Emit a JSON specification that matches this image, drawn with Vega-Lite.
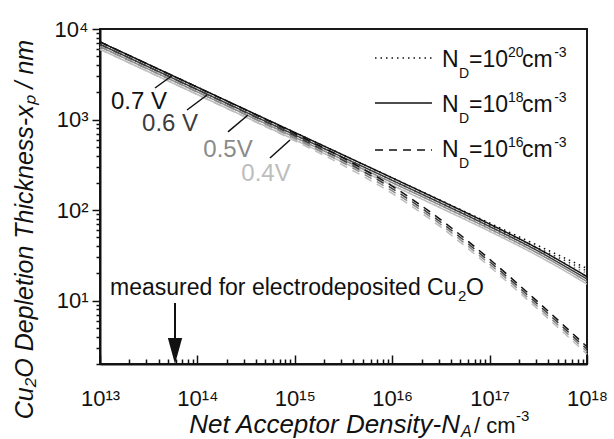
{
"$schema": "https://vega.github.io/schema/vega-lite/v6.json",
"width": 487, "height": 335,
"autosize": {"type": "none"},
"padding": {"left": 100, "top": 29, "right": 27, "bottom": 75},
"background": "white",
"config": {"font": "Liberation Sans", "view": {"stroke": "#1a1a1a", "strokeWidth": 2}},
"datasets": {
"curves": [
{"x":1e13,"y":7200,"V":"0.7","ND":"1e20"},{"x":3.162e13,"y":4049,"V":"0.7","ND":"1e20"},{"x":1e14,"y":2277,"V":"0.7","ND":"1e20"},{"x":3.162e14,"y":1280,"V":"0.7","ND":"1e20"},{"x":1e15,"y":720,"V":"0.7","ND":"1e20"},{"x":3.162e15,"y":404.9,"V":"0.7","ND":"1e20"},{"x":1e16,"y":227.7,"V":"0.7","ND":"1e20"},{"x":3.162e16,"y":128.0,"V":"0.7","ND":"1e20"},{"x":1e17,"y":72.0,"V":"0.7","ND":"1e20"},{"x":3.162e17,"y":40.46,"V":"0.7","ND":"1e20"},{"x":1e18,"y":22.71,"V":"0.7","ND":"1e20"},
{"x":1e13,"y":6768,"V":"0.6","ND":"1e20"},{"x":3.162e13,"y":3806,"V":"0.6","ND":"1e20"},{"x":1e14,"y":2140,"V":"0.6","ND":"1e20"},{"x":3.162e14,"y":1203,"V":"0.6","ND":"1e20"},{"x":1e15,"y":676.8,"V":"0.6","ND":"1e20"},{"x":3.162e15,"y":380.6,"V":"0.6","ND":"1e20"},{"x":1e16,"y":214.0,"V":"0.6","ND":"1e20"},{"x":3.162e16,"y":120.3,"V":"0.6","ND":"1e20"},{"x":1e17,"y":67.7,"V":"0.6","ND":"1e20"},{"x":3.162e17,"y":38.03,"V":"0.6","ND":"1e20"},{"x":1e18,"y":21.34,"V":"0.6","ND":"1e20"},
{"x":1e13,"y":6372,"V":"0.5","ND":"1e20"},{"x":3.162e13,"y":3583,"V":"0.5","ND":"1e20"},{"x":1e14,"y":2015,"V":"0.5","ND":"1e20"},{"x":3.162e14,"y":1133,"V":"0.5","ND":"1e20"},{"x":1e15,"y":637.2,"V":"0.5","ND":"1e20"},{"x":3.162e15,"y":358.3,"V":"0.5","ND":"1e20"},{"x":1e16,"y":201.5,"V":"0.5","ND":"1e20"},{"x":3.162e16,"y":113.3,"V":"0.5","ND":"1e20"},{"x":1e17,"y":63.7,"V":"0.5","ND":"1e20"},{"x":3.162e17,"y":35.80,"V":"0.5","ND":"1e20"},{"x":1e18,"y":20.10,"V":"0.5","ND":"1e20"},
{"x":1e13,"y":5976,"V":"0.4","ND":"1e20"},{"x":3.162e13,"y":3361,"V":"0.4","ND":"1e20"},{"x":1e14,"y":1890,"V":"0.4","ND":"1e20"},{"x":3.162e14,"y":1062,"V":"0.4","ND":"1e20"},{"x":1e15,"y":597.6,"V":"0.4","ND":"1e20"},{"x":3.162e15,"y":336.1,"V":"0.4","ND":"1e20"},{"x":1e16,"y":189.0,"V":"0.4","ND":"1e20"},{"x":3.162e16,"y":106.2,"V":"0.4","ND":"1e20"},{"x":1e17,"y":59.8,"V":"0.4","ND":"1e20"},{"x":3.162e17,"y":33.58,"V":"0.4","ND":"1e20"},{"x":1e18,"y":18.85,"V":"0.4","ND":"1e20"},
{"x":1e13,"y":7200,"V":"0.7","ND":"1e18"},{"x":3.162e13,"y":4049,"V":"0.7","ND":"1e18"},{"x":1e14,"y":2277,"V":"0.7","ND":"1e18"},{"x":3.162e14,"y":1280,"V":"0.7","ND":"1e18"},{"x":1e15,"y":720,"V":"0.7","ND":"1e18"},{"x":3.162e15,"y":404.6,"V":"0.7","ND":"1e18"},{"x":1e16,"y":227.1,"V":"0.7","ND":"1e18"},{"x":3.162e16,"y":126.9,"V":"0.7","ND":"1e18"},{"x":1e17,"y":70.2,"V":"0.7","ND":"1e18"},{"x":3.162e17,"y":37.47,"V":"0.7","ND":"1e18"},{"x":1e18,"y":18.41,"V":"0.7","ND":"1e18"},
{"x":1e13,"y":6768,"V":"0.6","ND":"1e18"},{"x":3.162e13,"y":3806,"V":"0.6","ND":"1e18"},{"x":1e14,"y":2140,"V":"0.6","ND":"1e18"},{"x":3.162e14,"y":1203,"V":"0.6","ND":"1e18"},{"x":1e15,"y":676.6,"V":"0.6","ND":"1e18"},{"x":3.162e15,"y":380.3,"V":"0.6","ND":"1e18"},{"x":1e16,"y":213.4,"V":"0.6","ND":"1e18"},{"x":3.162e16,"y":119.3,"V":"0.6","ND":"1e18"},{"x":1e17,"y":66.0,"V":"0.6","ND":"1e18"},{"x":3.162e17,"y":35.22,"V":"0.6","ND":"1e18"},{"x":1e18,"y":17.30,"V":"0.6","ND":"1e18"},
{"x":1e13,"y":6372,"V":"0.5","ND":"1e18"},{"x":3.162e13,"y":3583,"V":"0.5","ND":"1e18"},{"x":1e14,"y":2015,"V":"0.5","ND":"1e18"},{"x":3.162e14,"y":1133,"V":"0.5","ND":"1e18"},{"x":1e15,"y":637.0,"V":"0.5","ND":"1e18"},{"x":3.162e15,"y":358.0,"V":"0.5","ND":"1e18"},{"x":1e16,"y":201.0,"V":"0.5","ND":"1e18"},{"x":3.162e16,"y":112.4,"V":"0.5","ND":"1e18"},{"x":1e17,"y":62.1,"V":"0.5","ND":"1e18"},{"x":3.162e17,"y":33.16,"V":"0.5","ND":"1e18"},{"x":1e18,"y":16.29,"V":"0.5","ND":"1e18"},
{"x":1e13,"y":5976,"V":"0.4","ND":"1e18"},{"x":3.162e13,"y":3361,"V":"0.4","ND":"1e18"},{"x":1e14,"y":1890,"V":"0.4","ND":"1e18"},{"x":3.162e14,"y":1062,"V":"0.4","ND":"1e18"},{"x":1e15,"y":597.4,"V":"0.4","ND":"1e18"},{"x":3.162e15,"y":335.8,"V":"0.4","ND":"1e18"},{"x":1e16,"y":188.5,"V":"0.4","ND":"1e18"},{"x":3.162e16,"y":105.3,"V":"0.4","ND":"1e18"},{"x":1e17,"y":58.3,"V":"0.4","ND":"1e18"},{"x":3.162e17,"y":31.10,"V":"0.4","ND":"1e18"},{"x":1e18,"y":15.28,"V":"0.4","ND":"1e18"},
{"x":1e13,"y":7198,"V":"0.7","ND":"1e16"},{"x":3.162e13,"y":4046,"V":"0.7","ND":"1e16"},{"x":1e14,"y":2271,"V":"0.7","ND":"1e16"},{"x":3.162e14,"y":1269,"V":"0.7","ND":"1e16"},{"x":1e15,"y":701.6,"V":"0.7","ND":"1e16"},{"x":3.162e15,"y":374.7,"V":"0.7","ND":"1e16"},{"x":1e16,"y":184.1,"V":"0.7","ND":"1e16"},{"x":3.162e16,"y":78.2,"V":"0.7","ND":"1e16"},{"x":1e17,"y":28.7,"V":"0.7","ND":"1e16"},{"x":3.162e17,"y":9.61,"V":"0.7","ND":"1e16"},{"x":1e18,"y":3.10,"V":"0.7","ND":"1e16"},
{"x":1e13,"y":6766,"V":"0.6","ND":"1e16"},{"x":3.162e13,"y":3803,"V":"0.6","ND":"1e16"},{"x":1e14,"y":2134,"V":"0.6","ND":"1e16"},{"x":3.162e14,"y":1193,"V":"0.6","ND":"1e16"},{"x":1e15,"y":659.5,"V":"0.6","ND":"1e16"},{"x":3.162e15,"y":352.2,"V":"0.6","ND":"1e16"},{"x":1e16,"y":173.0,"V":"0.6","ND":"1e16"},{"x":3.162e16,"y":73.5,"V":"0.6","ND":"1e16"},{"x":1e17,"y":26.97,"V":"0.6","ND":"1e16"},{"x":3.162e17,"y":9.03,"V":"0.6","ND":"1e16"},{"x":1e18,"y":2.91,"V":"0.6","ND":"1e16"},
{"x":1e13,"y":6370,"V":"0.5","ND":"1e16"},{"x":3.162e13,"y":3580,"V":"0.5","ND":"1e16"},{"x":1e14,"y":2010,"V":"0.5","ND":"1e16"},{"x":3.162e14,"y":1124,"V":"0.5","ND":"1e16"},{"x":1e15,"y":621.0,"V":"0.5","ND":"1e16"},{"x":3.162e15,"y":331.6,"V":"0.5","ND":"1e16"},{"x":1e16,"y":162.9,"V":"0.5","ND":"1e16"},{"x":3.162e16,"y":69.3,"V":"0.5","ND":"1e16"},{"x":1e17,"y":25.38,"V":"0.5","ND":"1e16"},{"x":3.162e17,"y":8.50,"V":"0.5","ND":"1e16"},{"x":1e18,"y":2.74,"V":"0.5","ND":"1e16"},
{"x":1e13,"y":5974,"V":"0.4","ND":"1e16"},{"x":3.162e13,"y":3358,"V":"0.4","ND":"1e16"},{"x":1e14,"y":1885,"V":"0.4","ND":"1e16"},{"x":3.162e14,"y":1053,"V":"0.4","ND":"1e16"},{"x":1e15,"y":582.4,"V":"0.4","ND":"1e16"},{"x":3.162e15,"y":311.0,"V":"0.4","ND":"1e16"},{"x":1e16,"y":152.8,"V":"0.4","ND":"1e16"},{"x":3.162e16,"y":64.9,"V":"0.4","ND":"1e16"},{"x":1e17,"y":23.82,"V":"0.4","ND":"1e16"},{"x":3.162e17,"y":7.98,"V":"0.4","ND":"1e16"},{"x":1e18,"y":2.57,"V":"0.4","ND":"1e16"}
],
"leaders": [{"x":3.67e13,"y":2232,"x2":5.61e13,"y2":3105},{"x":7.82e13,"y":1276,"x2":1.256e14,"y2":1868},{"x":2.06e14,"y":730,"x2":3.31e14,"y2":1122},{"x":5.56e14,"y":377,"x2":8.93e14,"y2":594}],
"vlabels": [{"x":2.51e13,"y":1563,"t":"0.7 V","V":"0.7"},{"x":5.24e13,"y":893,"t":"0.6 V","V":"0.6"},{"x":2.06e14,"y":461,"t":"0.5V","V":"0.5"},{"x":5.06e14,"y":251,"t":"0.4V","V":"0.4"}],
"legendLines": [{"x":6.66e15,"x2":2.56e16,"y":4786,"ND":"1e20"},{"x":6.66e15,"x2":2.56e16,"y":1524,"ND":"1e18"},{"x":6.66e15,"x2":2.56e16,"y":461,"ND":"1e16"}],
"legendBig": [{"x":3.246e16,"y":3805,"t":"N"},{"x":6.146e16,"y":3805,"t":"=10"},{"x":2.15e17,"y":3805,"t":"cm"},{"x":3.246e16,"y":1212,"t":"N"},{"x":6.146e16,"y":1212,"t":"=10"},{"x":2.15e17,"y":1212,"t":"cm"},{"x":3.246e16,"y":386.1,"t":"N"},{"x":6.146e16,"y":386.1,"t":"=10"},{"x":2.15e17,"y":386.1,"t":"cm"}],
"legendSmall": [{"x":4.85e16,"y":2877,"t":"D"},{"x":1.545e17,"y":4908,"t":"20"},{"x":4.6e17,"y":4908,"t":"-3"},{"x":4.85e16,"y":916.6,"t":"D"},{"x":1.545e17,"y":1563,"t":"18"},{"x":4.6e17,"y":1563,"t":"-3"},{"x":4.85e16,"y":292.0,"t":"D"},{"x":1.545e17,"y":497.9,"t":"16"},{"x":4.6e17,"y":497.9,"t":"-3"}],
"noteBig": [{"x":1.267e13,"y":11.56,"t":"measured for electrodeposited Cu"},{"x":5.724e16,"y":11.56,"t":"O"}],
"noteSmall": [{"x":4.737e16,"y":9.93,"t":"2"}],
"arrow": [{"x":5.89e13,"y":9.434,"y2":2.785}],
"arrowHead": [{"x":5.89e13,"y":2.785}],
"xt1": [{"x":4.97e16,"y":0.3462,"t":"Net Acceptor Density-N"}],
"xt2": [{"x":5.087e16,"y":0.3128,"t":"A"}],
"xt3": [{"x":6.915e16,"y":0.3462,"t":"/ cm"}],
"xt4": [{"x":1.866e17,"y":0.4697,"t":"-3"}]
},
"encoding": {
"x": {"field": "x", "type": "quantitative",
 "scale": {"type": "log", "domain": [1e13, 1e18], "nice": false},
 "axis": {"title": null, "grid": false,
  "values": [1e13,2e13,3e13,4e13,5e13,6e13,7e13,8e13,9e13,1e14,2e14,3e14,4e14,5e14,6e14,7e14,8e14,9e14,1e15,2e15,3e15,4e15,5e15,6e15,7e15,8e15,9e15,1e16,2e16,3e16,4e16,5e16,6e16,7e16,8e16,9e16,1e17,2e17,3e17,4e17,5e17,6e17,7e17,8e17,9e17,1e18],
  "labelExpr": "datum.value==1e13?'10¹³':datum.value==1e14?'10¹⁴':datum.value==1e15?'10¹⁵':datum.value==1e16?'10¹⁶':datum.value==1e17?'10¹⁷':datum.value==1e18?'10¹⁸':''",
  "labelFontSize": 22, "labelColor": "#111", "labelBaseline": "alphabetic", "labelPadding": 50,
  "labelFlush": false, "labelOverlap": false, "labelBound": false,
  "tickSize": {"condition": {"test": "abs(log(datum.value)/LN10 - round(log(datum.value)/LN10)) < 0.001", "value": -9}, "value": -5},
  "tickColor": "#111", "tickWidth": 1.5, "domainColor": "#111", "domainWidth": 2}},
"y": {"field": "y", "type": "quantitative",
 "scale": {"type": "log", "domain": [2, 10000], "nice": false},
 "axis": {"title": "Cu₂O Depletion Thickness-xₚ / nm", "titleFontSize": 25, "titleFontStyle": "italic", "titleFontWeight": "normal", "titleColor": "#111",
  "titleX": -68, "titleY": 200, "titleAngle": 270, "titleAlign": "center", "titleBaseline": "alphabetic",
  "grid": false,
  "values": [2,3,4,5,6,7,8,9,10,20,30,40,50,60,70,80,90,100,200,300,400,500,600,700,800,900,1000,2000,3000,4000,5000,6000,7000,8000,9000,10000],
  "labelExpr": "datum.value==10?'10¹':datum.value==100?'10²':datum.value==1000?'10³':datum.value==10000?'10⁴':''",
  "labelFontSize": 22, "labelColor": "#111", "labelPadding": 4, "labelOverlap": false, "labelBound": false, "labelFlush": false,
  "tickSize": {"condition": {"test": "abs(log(datum.value)/LN10 - round(log(datum.value)/LN10)) < 0.001", "value": 8}, "value": 4},
  "tickColor": "#111", "tickWidth": 1.5, "domainColor": "#111", "domainWidth": 2}}
},
"layer": [
{"data": {"name": "curves"}, "mark": {"type": "line", "strokeWidth": 1.5, "interpolate": "monotone"},
 "encoding": {
  "color": {"field": "V", "type": "nominal", "scale": {"domain": ["0.7","0.6","0.5","0.4"], "range": ["#111111","#3c3c3c","#8a8a8a","#bdbdbd"]}, "legend": null},
  "strokeDash": {"field": "ND", "type": "nominal", "scale": {"domain": ["1e20","1e18","1e16"], "range": [[1.5,4],[1,0],[8,6]]}, "legend": null}}},
{"data": {"name": "leaders"}, "mark": {"type": "rule", "color": "#111", "strokeWidth": 1.5},
 "encoding": {"x2": {"field": "x2"}, "y2": {"field": "y2"}}},
{"data": {"name": "vlabels"}, "mark": {"type": "text", "fontSize": 24, "align": "center", "baseline": "middle"},
 "encoding": {"text": {"field": "t"}, "color": {"field": "V", "type": "nominal", "legend": null}}},
{"data": {"name": "legendLines"}, "mark": {"type": "rule", "color": "#111", "strokeWidth": 1.5},
 "encoding": {"x2": {"field": "x2"}, "strokeDash": {"field": "ND", "type": "nominal", "legend": null}}},
{"data": {"name": "legendBig"}, "mark": {"type": "text", "fontSize": 23, "align": "left", "baseline": "alphabetic", "color": "#111"},
 "encoding": {"text": {"field": "t"}}},
{"data": {"name": "legendSmall"}, "mark": {"type": "text", "fontSize": 14, "align": "left", "baseline": "alphabetic", "color": "#111"},
 "encoding": {"text": {"field": "t"}}},
{"data": {"name": "noteBig"}, "mark": {"type": "text", "fontSize": 23, "align": "left", "baseline": "alphabetic", "color": "#111"},
 "encoding": {"text": {"field": "t"}}},
{"data": {"name": "noteSmall"}, "mark": {"type": "text", "fontSize": 15, "align": "left", "baseline": "alphabetic", "color": "#111"},
 "encoding": {"text": {"field": "t"}}},
{"data": {"name": "arrow"}, "mark": {"type": "rule", "color": "#111", "strokeWidth": 2},
 "encoding": {"y2": {"field": "y2"}}},
{"data": {"name": "arrowHead"}, "mark": {"type": "point", "shape": "M-0.55,-1L0.55,-1L0,1Z", "size": 676, "filled": true, "color": "#111", "opacity": 1},
 "encoding": {}},
{"data": {"name": "xt1"}, "mark": {"type": "text", "fontSize": 26, "fontStyle": "italic", "align": "right", "baseline": "alphabetic", "color": "#111"},
 "encoding": {"text": {"field": "t"}}},
{"data": {"name": "xt2"}, "mark": {"type": "text", "fontSize": 16, "fontStyle": "italic", "align": "left", "baseline": "alphabetic", "color": "#111"},
 "encoding": {"text": {"field": "t"}}},
{"data": {"name": "xt3"}, "mark": {"type": "text", "fontSize": 22, "align": "left", "baseline": "alphabetic", "color": "#111"},
 "encoding": {"text": {"field": "t"}}},
{"data": {"name": "xt4"}, "mark": {"type": "text", "fontSize": 15, "align": "left", "baseline": "alphabetic", "color": "#111"},
 "encoding": {"text": {"field": "t"}}}
]
}
